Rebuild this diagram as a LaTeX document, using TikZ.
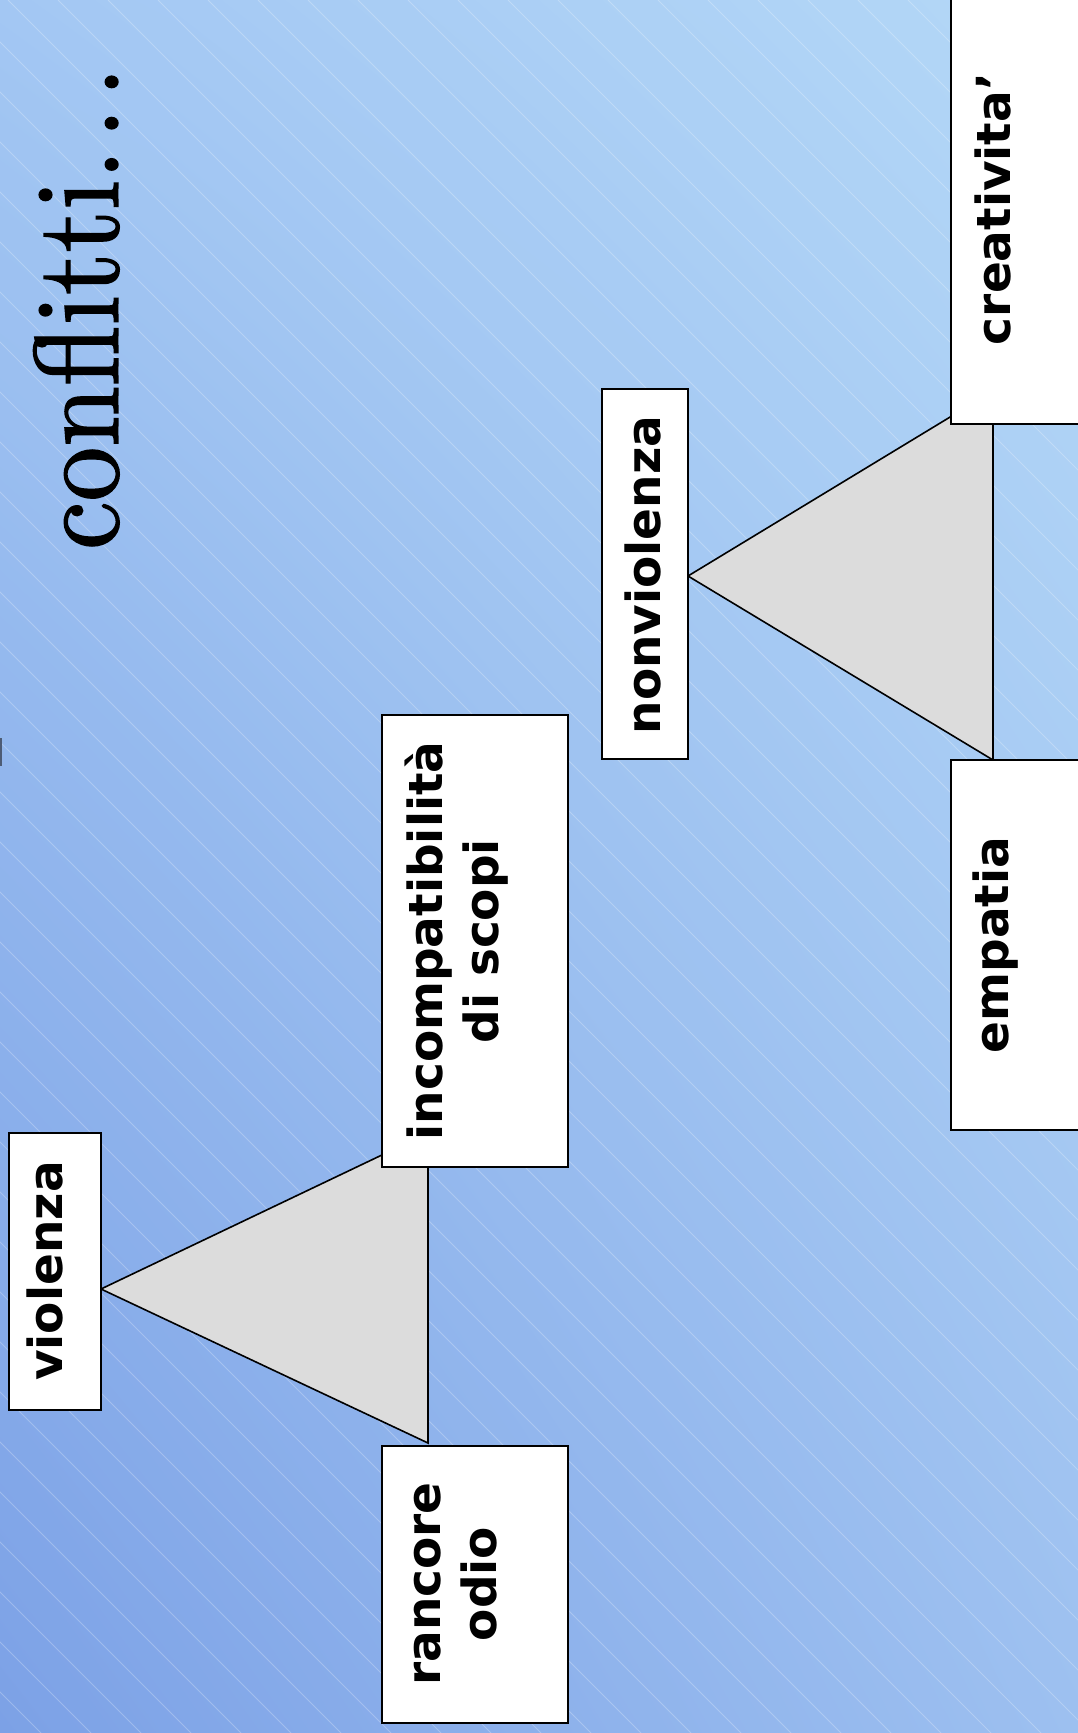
\documentclass[tikz,border=0pt]{standalone}
\usepackage{fontspec}
\usepackage{graphicx}
\usetikzlibrary{shadings}
\newfontfamily\labelfont{DejaVu Sans}
\newfontfamily\headfont{lmroman10-regular.otf}[FakeBold=1.2]
\definecolor{bgUL}{HTML}{A3C7F3}
\definecolor{bgUR}{HTML}{B4D8F7}
\definecolor{bgLL}{HTML}{7CA1E6}
\definecolor{bgLR}{HTML}{9DC0F0}
\definecolor{wedgegray}{HTML}{DCDCDC}
\definecolor{markgray}{HTML}{4D5C75}
\begin{document}
\begin{tikzpicture}[x=1pt,y=-1pt,
  panel/.style={draw=black, line width=2pt, fill=white, inner sep=0pt},
  wedge/.style={draw=black, line width=1.6pt, fill=wedgegray, line join=miter},
  tag/.style={rotate=90, inner sep=0pt, anchor=base,
    font=\labelfont\bfseries\fontsize{47}{56}\selectfont},
  stripe/.style={white, opacity=0.25, line width=0.8pt}]
\useasboundingbox (0,0) rectangle (1078,1733);
\begin{scope}
  \clip (0,0) rectangle (1078,1733);
  % backdrop: diagonal gradient with fine white hatching
  \shade[upper left=bgUL, upper right=bgUR, lower left=bgLL, lower right=bgLR]
    (0,0) rectangle (1078,1733);
  \foreach \c in {-1742,-1692,...,1108}
    \draw[stripe] (\c,0) -- ++(1733,1733);
  \fill[markgray] (0,738) rectangle (1.5,766);

  % the two wedges
  \draw[wedge] (688,576) -- (993,391) -- (993,760) -- cycle;
  \draw[wedge] (101,1289) -- (428,1133) -- (428,1443) -- cycle;

  % boxes
  \node[panel, minimum width=150pt, minimum height=450pt] (crea) at (1026,199) {};
  \node[panel, minimum width=86pt, minimum height=370pt] (nonv) at (645,574) {};
  \node[panel, minimum width=150pt, minimum height=370pt] (emp) at (1026,945) {};
  \node[panel, minimum width=186pt, minimum height=452pt] (incomp) at (475,941) {};
  \node[panel, minimum width=92pt, minimum height=277pt] (viol) at (55,1271) {};
  \node[panel, minimum width=186pt, minimum height=277pt] (ranc) at (475,1584.5) {};

  % labels
  \node[tag] (t-crea) at (1010,209) {creativita’};
  \node[tag] (t-nonv) at (660,575) {nonviolenza};
  \node[tag] (t-emp) at (1008,945) {empatia};
  \node[tag] (t-incomp) at (442,941)
    {\begin{tabular}[t]{@{}c@{}}incompatibilità\\di scopi\end{tabular}};
  \node[tag] (t-viol) at (62,1271) {violenza};
  \node[tag] (t-ranc) at (440,1584)
    {\begin{tabular}[t]{@{}c@{}}rancore\\odio\end{tabular}};

  % heading
  \node[rotate=90, anchor=base west, inner sep=0pt,
        font=\headfont\fontsize{120}{140}\selectfont] (title) at (118,550)
    {\scalebox{0.91}[1]{conflitti.\kern0.1em.\kern0.1em.}};
\end{scope}
\end{tikzpicture}
\end{document}
